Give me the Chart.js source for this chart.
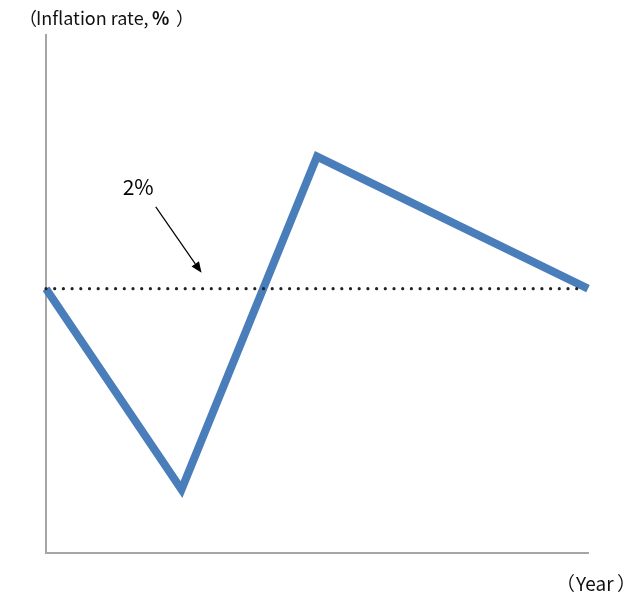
<!DOCTYPE html>
<html>
<head>
<meta charset="utf-8">
<script src="https://cdn.jsdelivr.net/npm/chart.js@4/dist/chart.umd.min.js"></script>
<style>
  html, body { margin: 0; padding: 0; background: #fff; }
  #wrap { position: relative; width: 635px; height: 596px; }
</style>
</head>
<body>
<div id="wrap"><canvas id="c" width="635" height="596"></canvas></div>
<script>
// Conceptual path of inflation over time (x = period index, y = rate)
const periods = [0, 1, 2, 4];
const inflation = [2, 0.48, 3.0, 2];
// Target rate shown as a dotted reference line
const target = 2;
const targetSpan = [0, 3.96];
// Label and arrow pointing at the target line
const targetLabel = '2%';
const labelAt = { x: 0.68, y: 2.77 };
const arrowFrom = { x: 0.81, y: 2.62 };
const arrowTo = { x: 1.148, y: 2.12 };
// Axis titles, split into runs so the percent sign can be bold
const yTitleRuns = ['（', 'Inflation rate, ', '%', '）'];
const xTitleRuns = ['（', 'Year', '）'];

const FONT = "'Noto Sans CJK JP', 'Noto Sans', sans-serif";

// draw a run so that its ink starts at inkX
function drawRun(ctx, text, inkX, baseY) {
  const m = ctx.measureText(text);
  ctx.fillText(text, inkX + m.actualBoundingBoxLeft, baseY);
}

const annotate = {
  id: 'annotate',
  afterDatasetsDraw(chart) {
    const { ctx, scales: { x, y } } = chart;
    ctx.save();
    // arrow toward the target line
    const x1 = x.getPixelForValue(arrowFrom.x), y1 = y.getPixelForValue(arrowFrom.y);
    const x2 = x.getPixelForValue(arrowTo.x), y2 = y.getPixelForValue(arrowTo.y);
    const ang = Math.atan2(y2 - y1, x2 - x1);
    const head = 11, half = 4.5;
    const bx = x2 - head * Math.cos(ang), by = y2 - head * Math.sin(ang);
    ctx.strokeStyle = '#000';
    ctx.fillStyle = '#000';
    ctx.lineWidth = 1.2;
    ctx.beginPath();
    ctx.moveTo(x1, y1);
    ctx.lineTo(bx, by);
    ctx.stroke();
    ctx.beginPath();
    ctx.moveTo(x2, y2);
    ctx.lineTo(bx + half * Math.sin(ang), by - half * Math.cos(ang));
    ctx.lineTo(bx - half * Math.sin(ang), by + half * Math.cos(ang));
    ctx.closePath();
    ctx.fill();
    // "2%" label
    ctx.font = '21px ' + FONT;
    ctx.textAlign = 'center';
    ctx.textBaseline = 'middle';
    ctx.fillText(targetLabel, x.getPixelForValue(labelAt.x), y.getPixelForValue(labelAt.y));

    // axis titles
    ctx.textAlign = 'left';
    ctx.textBaseline = 'alphabetic';
    ctx.fillStyle = '#111';
    ctx.font = '18px ' + FONT;
    drawRun(ctx, yTitleRuns[0], 31, 25);
    drawRun(ctx, yTitleRuns[1], 37, 25);
    ctx.font = 'bold 18px ' + FONT;
    drawRun(ctx, yTitleRuns[2], 152, 25);
    ctx.font = '18px ' + FONT;
    drawRun(ctx, yTitleRuns[3], 176, 25);

    ctx.font = '19px ' + FONT;
    drawRun(ctx, xTitleRuns[0], 569, 591);
    drawRun(ctx, xTitleRuns[1], 575, 591);
    drawRun(ctx, xTitleRuns[2], 617, 591);
    ctx.restore();
  }
};

new Chart(document.getElementById('c'), {
  type: 'line',
  data: {
    datasets: [
      {
        label: 'Target',
        data: targetSpan.map(v => ({ x: v, y: target })),
        borderColor: '#222',
        borderWidth: 3.2,
        borderCapStyle: 'round',
        borderDash: [0, 8.7],
        pointRadius: 0,
        clip: false
      },
      {
        label: 'Inflation',
        data: periods.map((p, i) => ({ x: p, y: inflation[i] })),
        borderColor: '#4a7ebb',
        borderWidth: 8,
        borderJoinStyle: 'miter',
        pointRadius: 0,
        tension: 0,
        clip: false
      }
    ]
  },
  options: {
    responsive: false,
    animation: false,
    layout: { padding: { left: 46, top: 35, right: 47, bottom: 43 } },
    plugins: { legend: { display: false }, tooltip: { enabled: false } },
    scales: {
      x: {
        type: 'linear', min: 0, max: 4,
        grid: { display: false, drawTicks: false },
        ticks: { display: false },
        border: { display: true, color: '#a6a6a6', width: 2 }
      },
      y: {
        min: 0, max: 3.92,
        grid: { display: false, drawTicks: false },
        ticks: { display: false },
        border: { display: true, color: '#a6a6a6', width: 2 }
      }
    }
  },
  plugins: [annotate]
});
</script>
</body>
</html>
